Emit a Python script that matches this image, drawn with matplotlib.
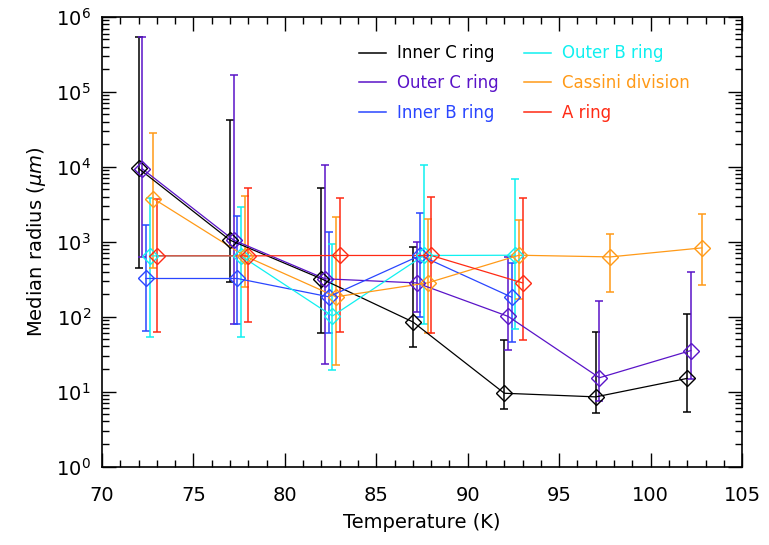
import matplotlib
matplotlib.use('Agg')
import matplotlib.pyplot as plt
from matplotlib.lines import Line2D
from matplotlib.ticker import LogLocator, MultipleLocator, NullFormatter
import numpy as np

temps = np.array([72, 77, 82, 87, 92, 97, 102])

# Inner C ring
ic_med = [9500, 1050, 320, 85, 9.5, 8.5, 15]
ic_lo = [447, 291, 61, 39, 5.8, 5.1, 5.4]
ic_hi = [5.4e5, 41700, 5270, 837, 48.6, 62.9, 110]

# Outer C ring
oc_med = [9400, 1050, 320, 282, 101, 15.3, 35.3]
oc_lo = [617, 79, 23, 116, 35.7, 7.5, 14.7]
oc_hi = [5.4e5, 1.67e5, 10400, 995, 627, 162, 392]

# Inner B ring
ib_med = [323, 323, 184, 655, 182]
ib_lo = [65, 81, 60, 99, 46]
ib_hi = [1690, 2180, 1340, 2380, 527]

# Outer B ring
ob_med = [647, 647, 102, 655, 660]
ob_lo = [53, 53, 19.4, 79, 69]
ob_hi = [3880, 2910, 926, 10400, 6940]

# Cassini division
cd_med = [3770, 647, 184, 282, 660, 627, 827]
cd_lo = [447, 250, 22.3, 61, 171, 212, 263]
cd_hi = [28600, 4080, 2150, 2030, 1940, 1250, 2330]

# A ring
ar_med = [647, 647, 655, 655, 282]
ar_lo = [63, 85, 62, 60, 48.6]
ar_hi = [3770, 5220, 3840, 3960, 3880]

names = ['Inner C ring', 'Outer C ring', 'Inner B ring',
         'Outer B ring', 'Cassini division', 'A ring']
colors = ['black', '#5a14c8', '#2a46ff', '#10f0f0', '#ff9a18', '#ff2a14']
meds = [ic_med, oc_med, ib_med, ob_med, cd_med, ar_med]
los = [ic_lo, oc_lo, ib_lo, ob_lo, cd_lo, ar_lo]
his = [ic_hi, oc_hi, ib_hi, ob_hi, cd_hi, ar_hi]

fig = plt.figure(figsize=(7.69, 5.45), dpi=100)
ax = fig.add_axes([0.1326, 0.144, 0.8324, 0.825])

for i in range(len(names)):
    m = np.array(meds[i])
    t = temps[:len(m)] + 0.2 * i
    yerr = [m - np.array(los[i]), np.array(his[i]) - m]
    ax.errorbar(t, m, yerr=yerr, fmt='none', ecolor=colors[i],
                elinewidth=1.1, capsize=3, capthick=1.1, zorder=2)
    ax.plot(t, m, '-', color=colors[i], lw=0.9, zorder=3)
    ax.plot(t, m, 'D', mfc='none', mec=colors[i], ms=8, mew=1.0, zorder=4)

ax.set_yscale('log')
ax.set_xlim(70, 105)
ax.set_ylim(1, 1e6)
ax.xaxis.set_major_locator(MultipleLocator(5))
ax.xaxis.set_minor_locator(MultipleLocator(1))
ax.yaxis.set_major_locator(LogLocator(base=10, numticks=10))
ax.yaxis.set_minor_locator(LogLocator(base=10, subs=np.arange(2, 10), numticks=10))
ax.yaxis.set_minor_formatter(NullFormatter())
ax.tick_params(which='both', direction='in', top=True, right=True, labelsize=14)
ax.tick_params(which='major', length=10, width=1)
ax.tick_params(which='minor', length=5, width=1)
ax.tick_params(axis='x', which='major', pad=14)
ax.tick_params(axis='y', which='major', pad=8)
for s in ax.spines.values():
    s.set_linewidth(1.2)

ax.set_xlabel('Temperature (K)', fontsize=14, labelpad=6)
ax.set_ylabel(r'Median radius ($\mu m$)', fontsize=14, labelpad=6)

handles = [Line2D([0], [0], color=c, lw=1.1) for c in colors]
ax.legend(handles, names, loc='upper left', bbox_to_anchor=(0.378, 0.972),
          ncol=2, frameon=False, fontsize=12, handlelength=1.6,
          handletextpad=0.7, columnspacing=1.5, labelspacing=0.7,
          labelcolor=colors)

fig.savefig('out.png', dpi=100)
